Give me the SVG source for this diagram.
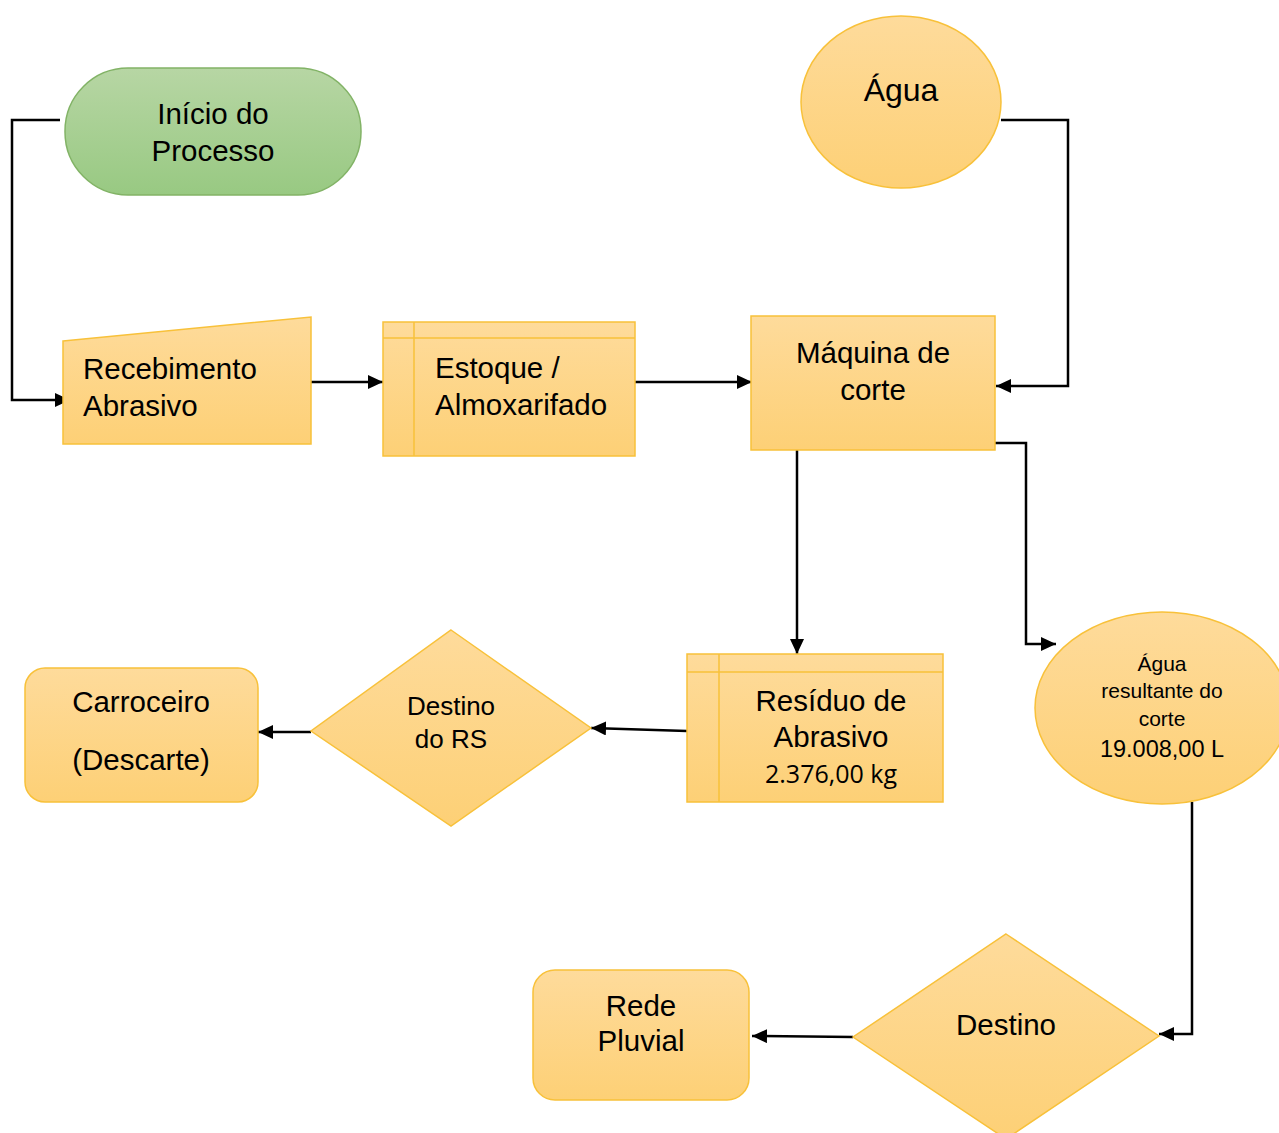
<svg xmlns="http://www.w3.org/2000/svg" width="1279" height="1133" viewBox="0 0 1279 1133">
<defs>
<linearGradient id="gy" x1="0" y1="0" x2="0" y2="1"><stop offset="0" stop-color="#fedb9b"/><stop offset="1" stop-color="#fdd076"/></linearGradient>
<linearGradient id="gg" x1="0" y1="0" x2="0" y2="1"><stop offset="0" stop-color="#b7d6a4"/><stop offset="1" stop-color="#98c982"/></linearGradient>
<marker id="ah" markerUnits="userSpaceOnUse" markerWidth="16" markerHeight="14" refX="15" refY="7" orient="auto"><path d="M0,0 L15,7 L0,14 Z" fill="#000"/></marker>
<style>
.y{fill:url(#gy);stroke:#f8c13a;stroke-width:1.5}
.g{fill:url(#gg);stroke:#82b366;stroke-width:1.5}
.t{font-family:"Liberation Sans",Arial,sans-serif;font-size:29.5px;fill:#000}
.c{text-anchor:middle}
.e{fill:none;stroke:#000;stroke-width:2.5;marker-end:url(#ah)}
.ln{fill:none;stroke:#f8c13a;stroke-width:1.5}
</style>
</defs>
<g id="connectors">
<path class="e" d="M60,120 H12 V400 H70"/>
<path class="e" d="M311,382 H383"/>
<path class="e" d="M635,382 H752"/>
<path class="e" d="M1001,120 H1068 V386 H996"/>
<path class="e" d="M797,450 V654"/>
<path class="e" d="M995,443 H1026 V644 H1056"/>
<path class="e" d="M687,731 L591,728"/>
<path class="e" d="M311,732 H258"/>
<path class="e" d="M1192,802 V1034 H1159"/>
<path class="e" d="M853,1037 L752,1036"/>
</g>
<g id="inicio">
<rect class="g" x="65" y="68" width="296" height="127" rx="63" ry="63"/>
<text class="t c" x="213" y="124">Início do</text>
<text class="t c" x="213" y="161">Processo</text>
</g>
<g id="recebimento">
<polygon class="y" points="63,341 311,317 311,444 63,444"/>
<text class="t" x="83" y="379">Recebimento</text>
<text class="t" x="83" y="416">Abrasivo</text>
</g>
<g id="estoque">
<rect class="y" x="383" y="322" width="252" height="134"/>
<path class="ln" d="M383,338 H635 M414,322 V456"/>
<text class="t" x="435" y="378">Estoque /</text>
<text class="t" x="435" y="415">Almoxarifado</text>
</g>
<g id="maquina">
<rect class="y" x="751" y="316" width="244" height="134"/>
<text class="t c" x="873" y="363">Máquina de</text>
<text class="t c" x="873" y="400">corte</text>
</g>
<g id="agua">
<ellipse class="y" cx="901" cy="102" rx="100" ry="86"/>
<text class="t c" x="901" y="101" style="font-size:32px">Água</text>
</g>
<g id="residuo">
<rect class="y" x="687" y="654" width="256" height="148"/>
<path class="ln" d="M687,672 H943 M719,654 V802"/>
<text class="t c" x="831" y="711">Resíduo de</text>
<text class="t c" x="831" y="747">Abrasivo</text>
<text class="t c" x="831" y="783" style="font-family:'Open Sans',sans-serif;font-size:25px">2.376,00 kg</text>
</g>
<g id="destino-rs">
<polygon class="y" points="451,630 591,728 451,826 311,731"/>
<text class="t c" x="451" y="715" style="font-size:26px">Destino</text>
<text class="t c" x="451" y="748" style="font-size:26px">do RS</text>
</g>
<g id="carroceiro">
<rect class="y" x="25" y="668" width="233" height="134" rx="20" ry="20"/>
<text class="t c" x="141" y="712">Carroceiro</text>
<text class="t c" x="141" y="770">(Descarte)</text>
</g>
<g id="agua-resultante">
<ellipse class="y" cx="1162" cy="708" rx="127" ry="96"/>
<text class="t c" x="1162" y="671" style="font-size:21px">Água</text>
<text class="t c" x="1162" y="698" style="font-size:21px">resultante do</text>
<text class="t c" x="1162" y="726" style="font-size:21px">corte</text>
<text class="t c" x="1162" y="757" style="font-size:23.5px">19.008,00 L</text>
</g>
<g id="destino">
<polygon class="y" points="1006,934 1159,1036 1006,1139 853,1037"/>
<text class="t c" x="1006" y="1035">Destino</text>
</g>
<g id="rede-pluvial">
<rect class="y" x="533" y="970" width="216" height="130" rx="22" ry="22"/>
<text class="t c" x="641" y="1016">Rede</text>
<text class="t c" x="641" y="1051">Pluvial</text>
</g>
</svg>
